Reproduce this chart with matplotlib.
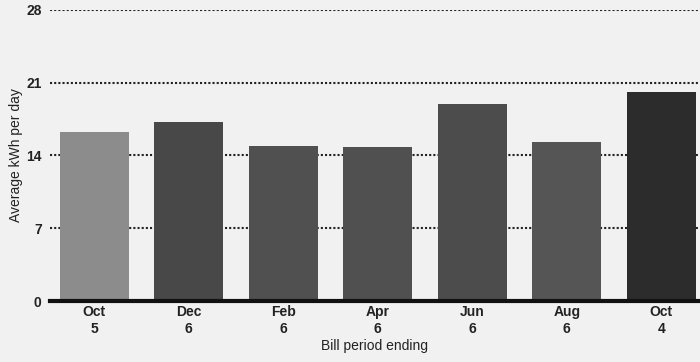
import matplotlib.pyplot as plt

plt.rcParams['font.family'] = ['Liberation Sans', 'DejaVu Sans']

# Bill periods and usage
months = ['Oct', 'Dec', 'Feb', 'Apr', 'Jun', 'Aug', 'Oct']
days = ['5', '6', '6', '6', '6', '6', '4']
kwh = [16.3, 17.2, 14.9, 14.8, 19.0, 15.3, 20.1]
bar_colors = ['#8c8c8c', '#484848', '#505050', '#505050', '#4c4c4c', '#555555', '#2c2c2c']
yticks = [0, 7, 14, 21, 28]

fig = plt.figure(figsize=(7, 3.62), dpi=100)
fig.patch.set_facecolor('#f1f1f1')
ax = fig.add_axes([0.0714, 0.1685, 0.9286, 0.804])
ax.set_facecolor('#f1f1f1')

labels = [f'{m}\n{d}' for m, d in zip(months, days)]
x = range(len(kwh))
ax.bar(x, kwh, width=0.73, color=bar_colors, zorder=2)

ax.set_ylim(0, 28)
ax.set_xlim(-0.47, 6.41)
ax.set_yticks(yticks)
ax.set_yticklabels([str(t) for t in yticks], fontsize=10, fontweight='bold')
ax.set_xticks(list(x))
ax.set_xticklabels(labels, fontsize=10, fontweight='bold', linespacing=1.3)
ax.tick_params(axis='y', length=0, pad=6, colors='#222222')
ax.tick_params(axis='x', length=0, pad=3, colors='#222222')

ax.yaxis.grid(True, linestyle=(0, (1, 1)), color='#222222', linewidth=1.5, zorder=1)
for s in ['top', 'right', 'left']:
    ax.spines[s].set_visible(False)
ax.spines['bottom'].set_linewidth(3)
ax.spines['bottom'].set_color('#111111')
ax.spines['bottom'].set_zorder(3)

ax.set_ylabel('Average kWh per day', fontsize=10, color='#222222', labelpad=2)
ax.set_xlabel('Bill period ending', fontsize=10, color='#222222', labelpad=2)

fig.savefig('out.png', dpi=100, facecolor=fig.get_facecolor())
